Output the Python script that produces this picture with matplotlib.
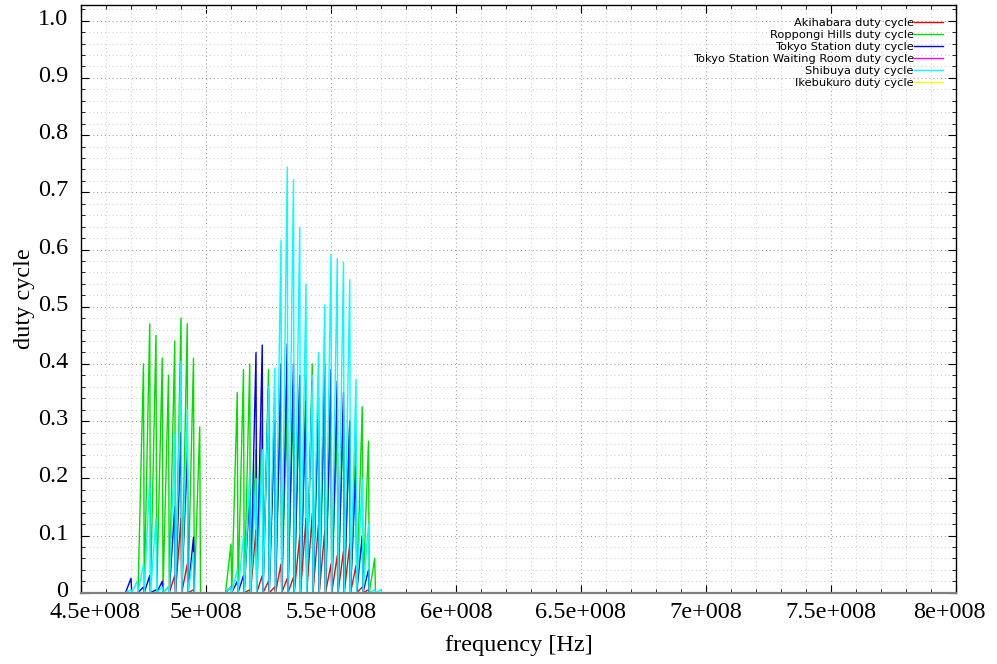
import matplotlib
matplotlib.use("Agg")
import matplotlib.pyplot as plt
import matplotlib.transforms as mtransforms
from matplotlib.ticker import MultipleLocator, FixedLocator

# channel centre frequencies [MHz]
channels_mhz = [467.5, 470, 472.5, 475, 477.5, 480, 482.5, 485, 487.5, 490, 492.5,
                495, 497.5, 500, 502.5, 505, 507.5, 510, 512.5, 515, 517.5, 520,
                522.5, 525, 527.5, 530, 532.5, 535, 537.5, 540, 542.5, 545, 547.5,
                550, 552.5, 555, 557.5, 560, 562.5, 565, 567.5, 570]

akihabara = [0, 0, 0, 0, 0, 0, 0, 0.01, 0.03, 0.13, 0.05,
             0.005, 0, 0, 0, 0, 0, 0, 0, 0, 0.005, 0.11,
             0.03, 0.02, 0.01, 0.05, 0.025, 0.027, 0.10, 0.13, 0.138, 0.12, 0.108,
             0.05, 0.065, 0.073, 0.085, 0.047, 0.01, 0.005, 0, 0]
roppongi = [0, 0, 0, 0.40, 0.47, 0.45, 0.41, 0.38, 0.44, 0.48, 0.47,
            0.41, 0.29, 0, 0, 0, 0, 0.085, 0.35, 0.39, 0.40, 0.25,
            0.30, 0.39, 0.34, 0.36, 0.33, 0.35, 0.36, 0.38, 0.40, 0.30, 0.32,
            0.33, 0.30, 0.31, 0.30, 0.28, 0.325, 0.265, 0.06, 0]
tokyo = [0, 0.025, 0, 0.01, 0.03, 0.005, 0.02, 0, 0.15, 0.28, 0.25,
         0.097, 0, 0, 0, 0, 0, 0.01, 0.02, 0.03, 0.18, 0.42,
         0.433, 0.357, 0.30, 0.40, 0.435, 0.40, 0.38, 0.335, 0.37, 0.34, 0.40,
         0.39, 0.37, 0.35, 0.30, 0.22, 0.10, 0.04, 0, 0]
waiting_room = [0] * 42
shibuya = [0, 0.005, 0.02, 0.05, 0.20, 0.13, 0.01, 0.01, 0.277, 0.405, 0.32,
           0.07, 0, 0, 0, 0, 0, 0.01, 0.04, 0.10, 0.21, 0.20,
           0.25, 0.36, 0.393, 0.616, 0.744, 0.722, 0.639, 0.54, 0.38, 0.42, 0.503,
           0.591, 0.584, 0.578, 0.547, 0.373, 0.20, 0.12, 0.005, 0.005]
ikebukuro = [0] * 42

series_names = ["Akihabara duty cycle", "Roppongi Hills duty cycle",
                "Tokyo Station duty cycle", "Tokyo Station Waiting Room duty cycle",
                "Shibuya duty cycle", "Ikebukuro duty cycle"]
series_values = [akihabara, roppongi, tokyo, waiting_room, shibuya, ikebukuro]
series_colors = ["#ff0000", "#00e000", "#0000ff", "#ff00ff", "#00ffff", "#ffff00"]

x_ticks = [4.5e8, 5e8, 5.5e8, 6e8, 6.5e8, 7e8, 7.5e8, 8e8]
x_tick_labels = ["4.5e+008", "5e+008", "5.5e+008", "6e+008", "6.5e+008",
                 "7e+008", "7.5e+008", "8e+008"]
y_ticks = [0, 0.1, 0.2, 0.3, 0.4, 0.5, 0.6, 0.7, 0.8, 0.9, 1.0]
y_tick_labels = ["0", "0.1", "0.2", "0.3", "0.4", "0.5", "0.6", "0.7", "0.8", "0.9", "1.0"]

W, H = 997, 664
fig = plt.figure(figsize=(W / 100, H / 100), dpi=100)
ax = fig.add_axes([81 / W, 1 - 592.7 / H, (956 - 81) / W, (592.7 - 5) / H])

serif = ["Liberation Serif", "DejaVu Serif"]

# spectrum traces: each sample followed by an immediate return to zero
gap = 0.3e6
for name, vals, col in zip(series_names, series_values, series_colors):
    xs, ys = [], []
    for c, v in zip(channels_mhz, vals):
        xs += [c * 1e6, c * 1e6 + gap]
        ys += [v, 0.0]
    ax.plot(xs, ys, color=col, lw=1.0, label=name, zorder=2)

ax.set_xlim(4.5e8, 8e8)
ax.set_ylim(0, 1.0275)

ax.xaxis.set_major_locator(FixedLocator(x_ticks))
ax.set_xticklabels(x_tick_labels)
ax.xaxis.set_minor_locator(MultipleLocator(1e7))
ax.yaxis.set_major_locator(FixedLocator(y_ticks))
ax.set_yticklabels(y_tick_labels)
ax.yaxis.set_minor_locator(MultipleLocator(0.02))

ax.grid(which="major", color="#a4a4a4", linestyle=(0, (1, 2.5)), lw=0.8)
ax.grid(which="minor", color="#d2d2d2", linestyle=(0, (1, 2.5)), lw=0.8)
ax.set_axisbelow(True)

ax.tick_params(which="both", direction="in", top=True, right=True, color="black")
ax.tick_params(which="major", length=6, width=0.8)
ax.tick_params(which="minor", length=3, width=0.6)
ax.tick_params(axis="x", which="major", pad=7)
ax.tick_params(axis="y", which="major", pad=9)

fs = 17.5
for lbl in ax.get_xticklabels() + ax.get_yticklabels():
    lbl.set_fontfamily(serif)
    lbl.set_fontsize(fs)

# nudge outer x tick labels inward and y tick labels slightly up, like the original
xl = ax.get_xticklabels()
xl[0].set_transform(xl[0].get_transform() + mtransforms.ScaledTranslation(14 / 100, 0, fig.dpi_scale_trans))
xl[-1].set_transform(xl[-1].get_transform() + mtransforms.ScaledTranslation(-7 / 100, 0, fig.dpi_scale_trans))
for lbl in ax.get_yticklabels():
    lbl.set_transform(lbl.get_transform() + mtransforms.ScaledTranslation(0, 4 / 100, fig.dpi_scale_trans))

for s in ax.spines.values():
    s.set_color("black")
    s.set_linewidth(1.0)
ax.spines["bottom"].set_color("#808080")
ax.spines["bottom"].set_linewidth(1.6)

ax.set_xlabel("frequency [Hz]", fontfamily=serif, fontsize=fs, labelpad=8)
ax.set_ylabel("duty cycle", fontfamily=serif, fontsize=fs, labelpad=2)

leg = ax.legend(loc="upper right", frameon=False, markerfirst=False,
                prop={"family": "DejaVu Sans", "size": 8.2}, handlelength=2.6,
                handletextpad=0.0, labelspacing=0.18, borderaxespad=0.7,
                alignment="right")

fig.savefig("out.png", dpi=100)
